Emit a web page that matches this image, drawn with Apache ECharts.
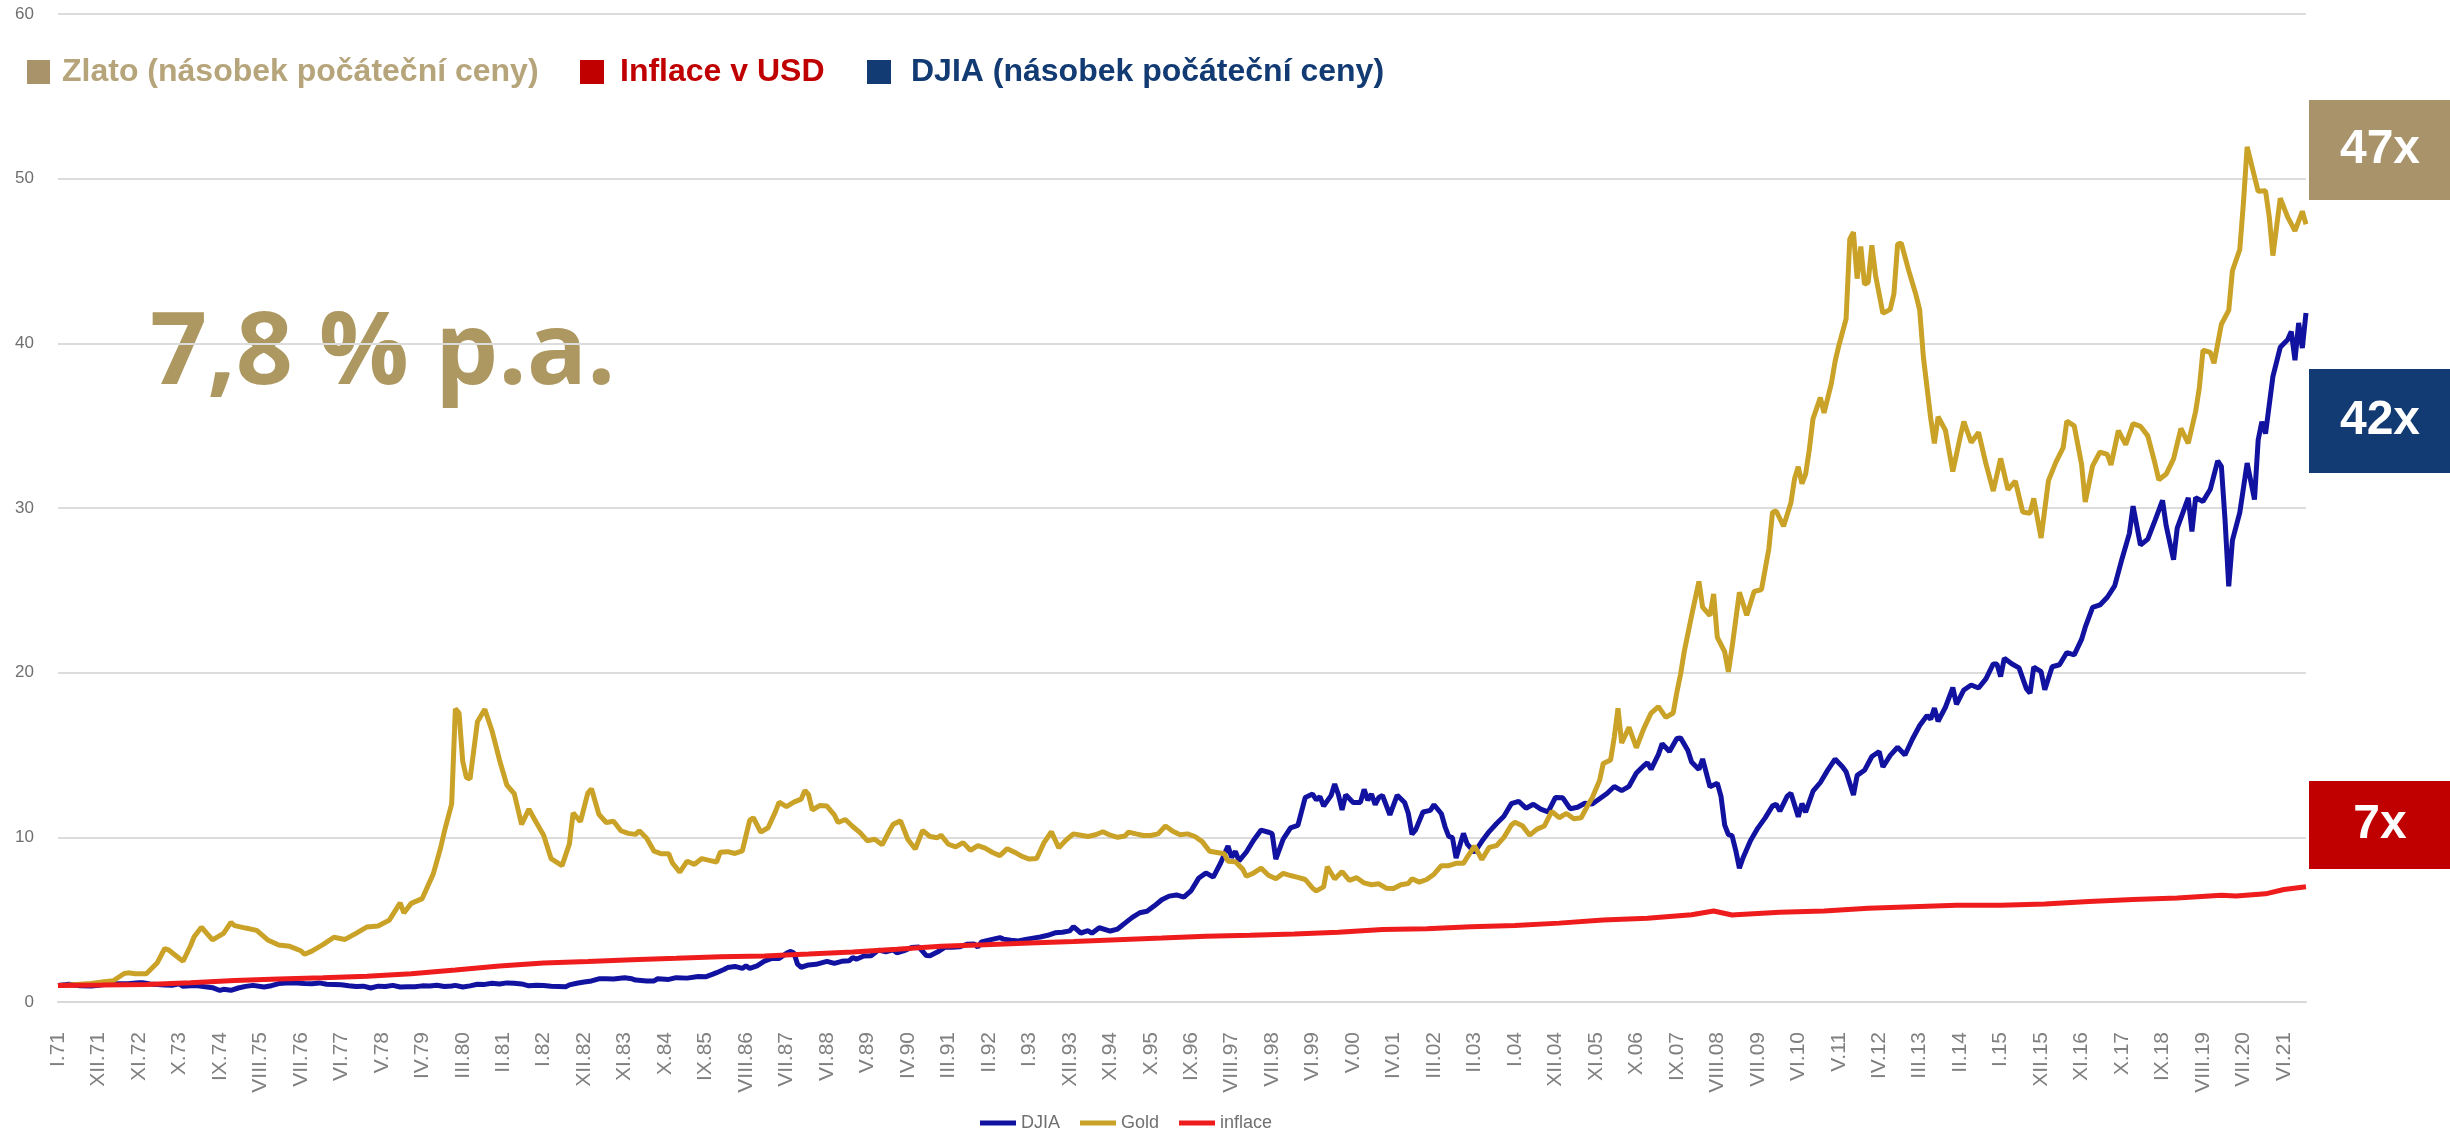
<!DOCTYPE html>
<html>
<head>
<meta charset="utf-8">
<title>Zlato, DJIA a inflace</title>
<script src="https://cdn.jsdelivr.net/npm/echarts@6/dist/echarts.min.js"></script>
<style>
  html, body { margin: 0; padding: 0; background: #fff; }
  #chart { width: 2450px; height: 1138px; }
</style>
</head>
<body>
<div id="chart"></div>
<script>
// popisky osy x (každých 11 měsíců od I.71)
var xLabels = ['I.71','XII.71','XI.72','X.73','IX.74','VIII.75','VII.76','VI.77','V.78','IV.79',
  'III.80','II.81','I.82','XII.82','XI.83','X.84','IX.85','VIII.86','VII.87','VI.88',
  'V.89','IV.90','III.91','II.92','I.93','XII.93','XI.94','X.95','IX.96','VIII.97',
  'VII.98','VI.99','V.00','IV.01','III.02','II.03','I.04','XII.04','XI.05','X.06',
  'IX.07','VIII.08','VII.09','VI.10','V.11','IV.12','III.13','II.14','I.15','XII.15',
  'XI.16','X.17','IX.18','VIII.19','VII.20','VI.21'];

// zlato – násobek počáteční ceny
var gold = [
  ['1971-01',1.00],['1971-04',1.03],['1971-07',1.08],['1971-10',1.12],
  ['1972-01',1.21],['1972-04',1.29],['1972-07',1.73],['1972-08',1.77],['1972-10',1.72],
  ['1973-01',1.72],['1973-04',2.39],['1973-06',3.25],['1973-07',3.17],['1973-10',2.64],['1973-11',2.48],
  ['1974-01',3.40],['1974-02',3.96],['1974-04',4.54],['1974-07',3.77],['1974-10',4.17],['1974-12',4.83],
  ['1975-01',4.64],['1975-04',4.49],['1975-07',4.35],['1975-10',3.77],
  ['1976-01',3.46],['1976-04',3.38],['1976-07',3.11],['1976-08',2.90],['1976-10',3.09],
  ['1977-01',3.48],['1977-04',3.93],['1977-07',3.80],['1977-10',4.17],
  ['1978-01',4.56],['1978-04',4.62],['1978-07',4.96],['1978-10',6.02],['1978-11',5.41],
  ['1979-01',5.99],['1979-04',6.28],['1979-07',7.78],['1979-09',9.37],['1979-10',10.34],['1979-12',12.03],
  ['1980-01',17.81],['1980-02',17.55],['1980-03',14.62],['1980-04',13.64],['1980-05',13.54],['1980-07',17.02],['1980-09',17.78],['1980-11',16.44],
  ['1981-01',14.70],['1981-03',13.17],['1981-05',12.66],['1981-07',10.79],['1981-09',11.71],['1981-11',10.90],
  ['1982-01',10.13],['1982-03',8.71],['1982-06',8.28],['1982-08',9.60],['1982-09',11.48],['1982-11',10.95],
  ['1983-01',12.69],['1983-02',12.95],['1983-04',11.40],['1983-06',10.90],['1983-08',10.98],['1983-10',10.40],['1983-12',10.24],
  ['1984-02',10.18],['1984-03',10.40],['1984-05',9.95],['1984-07',9.16],['1984-09',9.00],['1984-11',9.00],['1984-12',8.44],
  ['1985-02',7.89],['1985-04',8.55],['1985-06',8.36],['1985-08',8.71],['1985-10',8.60],['1985-12',8.50],
  ['1986-01',9.10],['1986-03',9.13],['1986-05',9.02],['1986-07',9.18],['1986-09',11.03],['1986-10',11.19],['1986-12',10.32],
  ['1987-02',10.58],['1987-04',11.56],['1987-05',12.14],['1987-07',11.87],['1987-09',12.14],['1987-11',12.32],['1987-12',12.85],
  ['1988-01',12.59],['1988-02',11.66],['1988-04',11.93],['1988-06',11.90],['1988-08',11.37],['1988-09',10.90],['1988-11',11.08],
  ['1989-01',10.66],['1989-03',10.29],['1989-05',9.79],['1989-07',9.89],['1989-09',9.55],['1989-11',10.40],['1989-12',10.79],
  ['1990-02',11.00],['1990-04',9.87],['1990-06',9.29],['1990-08',10.42],['1990-10',10.05],['1990-12',9.97],
  ['1991-01',10.13],['1991-03',9.58],['1991-05',9.42],['1991-07',9.68],['1991-09',9.21],['1991-11',9.50],
  ['1992-01',9.34],['1992-03',9.08],['1992-05',8.89],['1992-07',9.31],['1992-09',9.10],['1992-11',8.84],
  ['1993-01',8.68],['1993-03',8.71],['1993-05',9.68],['1993-07',10.34],['1993-09',9.37],['1993-11',9.84],
  ['1994-01',10.21],['1994-03',10.13],['1994-05',10.05],['1994-07',10.16],['1994-09',10.34],['1994-11',10.13],
  ['1995-01',10.00],['1995-03',10.08],['1995-04',10.32],['1995-06',10.21],['1995-08',10.11],['1995-10',10.11],['1995-12',10.21],
  ['1996-02',10.69],['1996-04',10.37],['1996-06',10.16],['1996-08',10.21],['1996-10',10.05],['1996-12',9.74],
  ['1997-02',9.16],['1997-04',9.08],['1997-06',9.00],['1997-07',8.55],['1997-09',8.52],['1997-11',8.07],['1997-12',7.63],
  ['1998-02',7.84],['1998-04',8.13],['1998-06',7.70],['1998-08',7.49],['1998-10',7.81],['1998-12',7.68],
  ['1999-02',7.57],['1999-04',7.44],['1999-06',6.91],['1999-07',6.75],['1999-09',6.99],['1999-10',8.21],['1999-12',7.47],
  ['2000-02',7.92],['2000-04',7.39],['2000-06',7.55],['2000-08',7.23],['2000-10',7.12],['2000-12',7.18],
  ['2001-02',6.91],['2001-04',6.89],['2001-06',7.12],['2001-08',7.20],['2001-09',7.49],['2001-11',7.28],
  ['2002-01',7.44],['2002-03',7.76],['2002-05',8.28],['2002-07',8.28],['2002-09',8.42],['2002-11',8.42],['2002-12',8.79],
  ['2003-02',9.47],['2003-04',8.65],['2003-06',9.39],['2003-08',9.50],['2003-10',10.00],['2003-12',10.74],
  ['2004-01',10.92],['2004-03',10.71],['2004-05',10.13],['2004-07',10.50],['2004-09',10.69],['2004-11',11.58],
  ['2005-01',11.19],['2005-03',11.45],['2005-05',11.13],['2005-07',11.19],['2005-09',12.03],['2005-10',12.40],['2005-12',13.46],
  ['2006-01',14.49],['2006-03',14.70],['2006-04',16.09],['2006-05',17.84],['2006-06',15.73],['2006-08',16.68],['2006-10',15.44],['2006-12',16.60],
  ['2007-02',17.55],['2007-04',17.94],['2007-06',17.28],['2007-08',17.55],['2007-09',18.81],['2007-10',19.89],['2007-11',21.27],
  ['2008-01',23.46],['2008-03',25.54],['2008-04',23.98],['2008-06',23.46],['2008-07',24.78],['2008-08',22.14],['2008-10',21.27],['2008-11',20.05],['2008-12',21.53],
  ['2009-02',24.88],['2009-04',23.48],['2009-06',24.93],['2009-08',25.04],['2009-09',26.28],['2009-10',27.52],['2009-11',29.74],['2009-12',29.82],
  ['2010-02',28.89],['2010-04',30.32],['2010-05',31.79],['2010-06',32.51],['2010-07',31.48],['2010-08',32.06],['2010-09',33.54],['2010-10',35.41],['2010-12',36.70],
  ['2011-01',35.78],['2011-03',37.57],['2011-04',38.89],['2011-05',39.84],['2011-07',41.48],['2011-08',46.33],['2011-09',46.75],['2011-10',43.93],['2011-11',45.88],['2011-12',43.59],
  ['2012-01',43.69],['2012-02',45.96],['2012-03',44.14],['2012-05',41.82],['2012-07',42.06],['2012-08',43.01],['2012-09',46.02],['2012-10',46.09],['2012-12',44.43],
  ['2013-02',42.93],['2013-03',42.03],['2013-04',39.18],['2013-06',35.44],['2013-07',33.93],['2013-08',35.54],['2013-10',34.72],['2013-12',32.22],
  ['2014-02',34.30],['2014-03',35.25],['2014-05',33.98],['2014-07',34.59],['2014-09',32.69],['2014-11',31.03],
  ['2015-01',33.01],['2015-03',31.11],['2015-05',31.64],['2015-07',29.76],['2015-09',29.68],['2015-10',30.58],['2015-12',28.18],
  ['2016-02',31.66],['2016-04',32.77],['2016-06',33.67],['2016-07',35.28],['2016-09',34.99],['2016-11',32.66],['2016-12',30.37],
  ['2017-02',32.56],['2017-04',33.40],['2017-06',33.25],['2017-07',32.61],['2017-09',34.70],['2017-11',33.85],
  ['2018-01',35.12],['2018-03',34.96],['2018-05',34.38],['2018-07',32.66],['2018-08',31.71],['2018-10',32.06],['2018-12',32.98],
  ['2019-02',34.83],['2019-04',33.93],['2019-06',35.86],['2019-07',37.28],['2019-08',39.58],['2019-10',39.45],['2019-11',38.79],
  ['2020-01',41.16],['2020-03',42.00],['2020-04',44.41],['2020-06',45.70],['2020-07',48.55],['2020-08',51.93],['2020-10',50.13],['2020-11',49.23],
  ['2021-01',49.26],['2021-02',47.70],['2021-03',45.33],['2021-05',48.81],['2021-07',47.68],['2021-09',46.83],['2021-11',48.02],['2021-12',47.23]
];

// DJIA – násobek počáteční hodnoty
var djia = [
  ['1971-01',1.00],['1971-04',1.08],['1971-07',0.99],['1971-10',0.97],['1971-12',1.02],
  ['1972-02',1.07],['1972-05',1.11],['1972-08',1.11],['1972-11',1.17],['1972-12',1.17],
  ['1973-02',1.10],['1973-04',1.06],['1973-06',1.03],['1973-08',1.02],['1973-10',1.10],['1973-11',0.95],
  ['1974-01',0.99],['1974-03',0.98],['1974-05',0.92],['1974-07',0.87],['1974-09',0.70],['1974-10',0.77],['1974-12',0.71],
  ['1975-02',0.85],['1975-04',0.95],['1975-06',1.01],['1975-09',0.91],['1975-11',0.99],
  ['1976-01',1.12],['1976-03',1.15],['1976-06',1.15],['1976-08',1.12],['1976-10',1.11],['1976-12',1.16],
  ['1977-02',1.08],['1977-04',1.07],['1977-06',1.05],['1977-08',0.99],['1977-10',0.94],['1977-12',0.96],
  ['1978-02',0.85],['1978-04',0.96],['1978-06',0.94],['1978-08',1.01],['1978-10',0.91],['1978-12',0.93],
  ['1979-02',0.93],['1979-04',0.98],['1979-06',0.97],['1979-08',1.02],['1979-10',0.94],['1979-12',0.97],
  ['1980-01',1.01],['1980-03',0.91],['1980-05',0.98],['1980-07',1.08],['1980-09',1.07],['1980-11',1.14],
  ['1981-01',1.09],['1981-03',1.16],['1981-05',1.14],['1981-07',1.10],['1981-09',0.98],['1981-11',1.02],
  ['1982-01',1.00],['1982-03',0.95],['1982-05',0.94],['1982-07',0.93],['1982-08',1.04],['1982-10',1.14],['1982-12',1.21],
  ['1983-02',1.28],['1983-04',1.41],['1983-06',1.41],['1983-08',1.40],['1983-11',1.47],
  ['1984-01',1.41],['1984-02',1.33],['1984-05',1.27],['1984-07',1.28],['1984-08',1.41],['1984-11',1.37],
  ['1985-01',1.48],['1985-04',1.45],['1985-07',1.55],['1985-09',1.53],['1985-11',1.69],['1985-12',1.78],
  ['1986-02',1.97],['1986-03',2.09],['1986-05',2.16],['1986-07',2.04],['1986-08',2.19],['1986-09',2.04],['1986-11',2.20],
  ['1987-01',2.48],['1987-03',2.65],['1987-05',2.64],['1987-07',2.96],['1987-08',3.07],['1987-09',2.99],['1987-10',2.30],['1987-11',2.11],
  ['1988-01',2.25],['1988-03',2.29],['1988-06',2.47],['1988-08',2.34],['1988-10',2.47],['1988-12',2.50],
  ['1989-01',2.70],['1989-02',2.60],['1989-04',2.79],['1989-06',2.81],['1989-08',3.15],['1989-10',3.05],['1989-12',3.17],
  ['1990-01',2.98],['1990-03',3.12],['1990-05',3.31],['1990-07',3.34],['1990-09',2.82],['1990-10',2.81],['1990-12',3.03],
  ['1991-02',3.32],['1991-04',3.33],['1991-06',3.35],['1991-08',3.50],['1991-10',3.53],['1991-11',3.33],['1991-12',3.65],
  ['1992-02',3.76],['1992-05',3.91],['1992-06',3.82],['1992-08',3.75],['1992-10',3.71],['1992-12',3.80],
  ['1993-02',3.88],['1993-04',3.95],['1993-06',4.05],['1993-08',4.20],['1993-10',4.24],['1993-12',4.32],
  ['1994-01',4.58],['1994-03',4.19],['1994-05',4.33],['1994-06',4.17],['1994-08',4.51],['1994-11',4.31],
  ['1995-01',4.43],['1995-03',4.79],['1995-05',5.14],['1995-07',5.42],['1995-09',5.51],['1995-11',5.84],
  ['1996-01',6.21],['1996-03',6.43],['1996-05',6.50],['1996-07',6.37],['1996-09',6.77],['1996-11',7.51],
  ['1997-01',7.84],['1997-03',7.58],['1997-05',8.44],['1997-07',9.47],['1997-08',8.78],['1997-09',9.15],['1997-10',8.57],['1997-12',9.11],
  ['1998-02',9.84],['1998-04',10.44],['1998-06',10.31],['1998-07',10.23],['1998-08',8.68],['1998-10',9.89],['1998-12',10.57],
  ['1999-02',10.72],['1999-04',12.42],['1999-06',12.63],['1999-07',12.27],['1999-08',12.47],['1999-09',11.90],['1999-11',12.53],['1999-12',13.24],
  ['2000-01',12.60],['2000-02',11.66],['2000-03',12.58],['2000-05',12.12],['2000-07',12.12],['2000-08',12.91],['2000-09',12.26],['2000-10',12.63],['2000-11',11.99],['2000-12',12.42],
  ['2001-01',12.54],['2001-03',11.37],['2001-05',12.56],['2001-07',12.12],['2001-08',11.46],['2001-09',10.19],['2001-10',10.45],['2001-12',11.54],
  ['2002-02',11.64],['2002-03',11.98],['2002-05',11.43],['2002-06',10.64],['2002-07',10.06],['2002-08',9.98],['2002-09',8.74],['2002-11',10.24],['2002-12',9.61],
  ['2003-02',9.09],['2003-04',9.76],['2003-06',10.35],['2003-08',10.84],['2003-10',11.28],['2003-12',12.04],
  ['2004-02',12.19],['2004-04',11.77],['2004-06',12.01],['2004-08',11.71],['2004-10',11.55],['2004-12',12.42],
  ['2005-02',12.40],['2005-04',11.74],['2005-06',11.83],['2005-08',12.07],['2005-10',12.02],['2005-12',12.34],
  ['2006-02',12.66],['2006-04',13.09],['2006-06',12.84],['2006-08',13.10],['2006-10',13.91],['2006-12',14.35],
  ['2007-01',14.53],['2007-02',14.13],['2007-04',15.04],['2007-05',15.69],['2007-07',15.21],['2007-09',16.00],['2007-10',16.04],['2007-12',15.27],
  ['2008-01',14.57],['2008-03',14.12],['2008-04',14.76],['2008-06',13.07],['2008-08',13.29],['2008-09',12.49],['2008-10',10.74],['2008-11',10.17],['2008-12',10.10],
  ['2009-01',9.21],['2009-02',8.13],['2009-03',8.76],['2009-05',9.79],['2009-07',10.56],['2009-09',11.18],['2009-11',11.91],['2009-12',12.01],
  ['2010-01',11.59],['2010-03',12.50],['2010-04',12.68],['2010-06',11.25],['2010-07',12.05],['2010-08',11.53],['2010-10',12.80],['2010-12',13.33],
  ['2011-02',14.08],['2011-04',14.75],['2011-06',14.29],['2011-07',13.98],['2011-09',12.57],['2011-10',13.76],['2011-12',14.07],
  ['2012-02',14.91],['2012-04',15.21],['2012-05',14.27],['2012-07',14.98],['2012-09',15.47],['2012-11',15.00],
  ['2013-01',15.96],['2013-03',16.79],['2013-05',17.40],['2013-06',17.17],['2013-07',17.85],['2013-08',17.05],['2013-10',17.90],['2013-12',19.09],
  ['2014-01',18.08],['2014-03',18.95],['2014-05',19.25],['2014-07',19.07],['2014-09',19.62],['2014-11',20.53],['2014-12',20.52],
  ['2015-01',19.76],['2015-02',20.88],['2015-04',20.54],['2015-06',20.29],['2015-08',19.03],['2015-09',18.75],['2015-10',20.34],['2015-12',20.06],
  ['2016-01',18.96],['2016-03',20.36],['2016-05',20.48],['2016-07',21.22],['2016-09',21.08],['2016-11',22.02],['2016-12',22.76],
  ['2017-02',23.96],['2017-04',24.11],['2017-06',24.58],['2017-08',25.27],['2017-10',26.92],['2017-12',28.46],
  ['2018-01',30.11],['2018-03',27.75],['2018-05',28.11],['2018-07',29.26],['2018-09',30.46],['2018-10',28.92],['2018-12',26.86],
  ['2019-01',28.78],['2019-04',30.62],['2019-05',28.57],['2019-06',30.63],['2019-08',30.40],['2019-10',31.14],['2019-12',32.86],
  ['2020-01',32.53],['2020-02',29.26],['2020-03',25.24],['2020-04',28.03],['2020-06',29.72],['2020-08',32.73],['2020-10',30.51],['2020-11',34.13],['2020-12',35.24],
  ['2021-01',34.52],['2021-03',37.98],['2021-05',39.76],['2021-07',40.22],['2021-08',40.72],['2021-09',38.97],['2021-10',41.24],['2021-11',39.71],['2021-12',41.84]
];

// inflace v USD – kumulovaný násobek
var inflace = [
  ['1971-01',1.00],['1972-01',1.03],['1973-01',1.07],['1974-01',1.17],['1975-01',1.31],
  ['1976-01',1.40],['1977-01',1.47],['1978-01',1.57],['1979-01',1.72],['1980-01',1.95],
  ['1981-01',2.19],['1982-01',2.37],['1983-01',2.46],['1984-01',2.56],['1985-01',2.65],
  ['1986-01',2.75],['1987-01',2.79],['1988-01',2.91],['1989-01',3.04],['1990-01',3.20],
  ['1991-01',3.38],['1992-01',3.47],['1993-01',3.58],['1994-01',3.67],['1995-01',3.78],
  ['1996-01',3.88],['1997-01',4.00],['1998-01',4.06],['1999-01',4.13],['2000-01',4.24],
  ['2001-01',4.40],['2002-01',4.45],['2003-01',4.57],['2004-01',4.65],['2005-01',4.79],
  ['2006-01',4.98],['2007-01',5.09],['2008-01',5.30],['2008-07',5.53],['2008-12',5.28],
  ['2009-01',5.30],['2010-01',5.45],['2011-01',5.53],['2012-01',5.70],['2013-01',5.79],
  ['2014-01',5.88],['2015-01',5.87],['2016-01',5.95],['2017-01',6.10],['2018-01',6.23],
  ['2019-01',6.32],['2020-01',6.48],['2020-05',6.44],['2021-01',6.57],['2021-06',6.83],['2021-12',7.00]
];

// 'RRRR-MM' -> pořadí měsíce od I.71
function toPoints(arr) {
  return arr.map(function (d) {
    var p = d[0].split('-');
    return [(+p[0] - 1971) * 12 + (+p[1] - 1), d[1]];
  });
}

var chart = echarts.init(document.getElementById('chart'));

var legendFont = 'bold 32px "Liberation Sans", Arial, sans-serif';
var boxFont = 'bold 48px "Liberation Sans", Arial, sans-serif';

chart.setOption({
  animation: false,
  backgroundColor: '#fff',
  grid: { left: 58, right: 144, top: 14, bottom: 136 },
  xAxis: {
    type: 'value',
    min: 0,
    max: 611,
    interval: 11,
    axisLine: { lineStyle: { color: '#d9d9d9', width: 2 } },
    axisTick: { show: false },
    splitLine: { show: false },
    axisLabel: {
      rotate: 90,
      margin: 30,
      color: '#808080',
      fontSize: 21,
      fontFamily: 'Liberation Sans, Arial, sans-serif',
      formatter: function (v) { return xLabels[v / 11] || ''; }
    }
  },
  yAxis: {
    type: 'value',
    min: 0,
    max: 60,
    interval: 10,
    axisLine: { show: false },
    axisTick: { show: false },
    splitLine: { lineStyle: { color: '#dcdcdc', width: 2 } },
    axisLabel: { color: '#6f6f6f', fontSize: 17, margin: 24, fontFamily: 'Liberation Sans, Arial, sans-serif' }
  },
  legend: {
    data: ['DJIA', 'Gold', 'inflace'],
    left: 975,
    top: 1109,
    icon: 'rect',
    itemWidth: 36,
    itemHeight: 5,
    itemGap: 20,
    textStyle: { color: '#707070', fontSize: 18, fontFamily: 'Liberation Sans, Arial, sans-serif' }
  },
  series: [
    { name: 'DJIA', type: 'line', data: toPoints(djia), showSymbol: false,
      lineStyle: { color: '#1212a0', width: 5 }, itemStyle: { color: '#1212a0' } },
    { name: 'Gold', type: 'line', data: toPoints(gold), showSymbol: false,
      lineStyle: { color: '#c9a227', width: 5 }, itemStyle: { color: '#c9a227' } },
    { name: 'inflace', type: 'line', data: toPoints(inflace), showSymbol: false,
      lineStyle: { color: '#ee1c1c', width: 5 }, itemStyle: { color: '#ee1c1c' } }
  ],
  graphic: [
    // horní legenda
    { type: 'rect', shape: { x: 27, y: 60, width: 23, height: 24 }, style: { fill: '#a8936a' } },
    { type: 'text', style: { x: 62, y: 72, text: 'Zlato (násobek počáteční ceny)', font: legendFont, fill: '#b6a47a', verticalAlign: 'middle' } },
    { type: 'rect', shape: { x: 580, y: 60, width: 24, height: 24 }, style: { fill: '#c00000' } },
    { type: 'text', style: { x: 620, y: 72, text: 'Inflace v USD', font: legendFont, fill: '#c00000', verticalAlign: 'middle' } },
    { type: 'rect', shape: { x: 867, y: 60, width: 24, height: 24 }, style: { fill: '#123a73' } },
    { type: 'text', style: { x: 911, y: 72, text: 'DJIA (násobek počáteční ceny)', font: legendFont, fill: '#123a73', verticalAlign: 'middle' } },
    // roční výnos
    { type: 'text', style: { x: 150, y: 356, text: '7,8 % p.a.', font: 'bold 100px "Open Sans", Lato, sans-serif', fill: '#ae9862', verticalAlign: 'middle' } },
    // štítky vpravo
    { type: 'rect', shape: { x: 2309, y: 100, width: 141, height: 100 }, style: { fill: '#a8936a' } },
    { type: 'text', style: { x: 2380, y: 150, text: '47x', font: boxFont, fill: '#fff', align: 'center', verticalAlign: 'middle' } },
    { type: 'rect', shape: { x: 2309, y: 369, width: 141, height: 104 }, style: { fill: '#123a73' } },
    { type: 'text', style: { x: 2380, y: 421, text: '42x', font: boxFont, fill: '#fff', align: 'center', verticalAlign: 'middle' } },
    { type: 'rect', shape: { x: 2309, y: 781, width: 141, height: 88 }, style: { fill: '#c00000' } },
    { type: 'text', style: { x: 2380, y: 825, text: '7x', font: boxFont, fill: '#fff', align: 'center', verticalAlign: 'middle' } }
  ]
});
</script>
</body>
</html>
